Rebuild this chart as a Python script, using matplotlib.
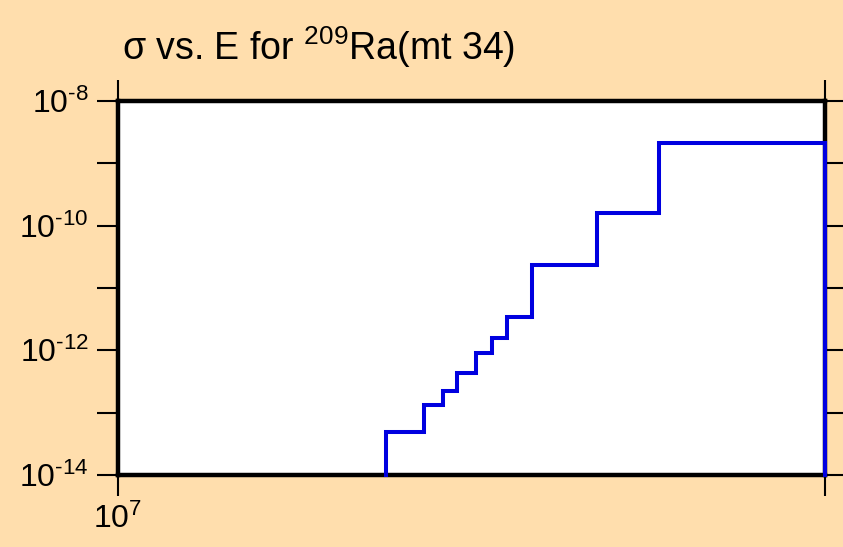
import matplotlib
matplotlib.use("Agg")
import matplotlib.pyplot as plt
import numpy as np

plt.rcParams['font.family'] = ['Liberation Sans', 'DejaVu Sans']
plt.rcParams['mathtext.fontset'] = 'custom'
plt.rcParams['mathtext.rm'] = 'Liberation Sans'
plt.rcParams['mathtext.it'] = 'Liberation Sans'

# Group boundaries (eV) and cross section in each group (b)
energy_edges = [1.3e7, 1.35e7, 1.375e7, 1.394e7, 1.42e7, 1.443e7, 1.464e7,
                1.5e7, 1.6e7, 1.7e7, 2.0e7]
sigma = [4.95e-14, 1.34e-13, 2.25e-13, 4.38e-13, 8.95e-13, 1.56e-12,
         3.47e-12, 2.34e-11, 1.61e-10, 2.10e-9]

x_limits = (1e7, 2e7)
y_limits = (1e-14, 1e-8)
x_ticks = [1e7, 2e7]
x_ticklabels = [r'$\mathregular{10^{7}}$', '']
y_ticks = [1e-14, 1e-13, 1e-12, 1e-11, 1e-10, 1e-9, 1e-8]
y_ticklabels = [r'$\mathregular{10^{\text{-}14}}$', '', r'$\mathregular{10^{\text{-}12}}$', '',
                r'$\mathregular{10^{\text{-}10}}$', '', r'$\mathregular{10^{\text{-}8}}$']

bg = '#FFDEAD'
fig = plt.figure(figsize=(8.43, 5.47), dpi=100, facecolor=bg)
ax = fig.add_axes([118 / 843, 1 - 475 / 547, (825 - 118) / 843, (475 - 101) / 547])
ax.set_facecolor('white')

# step outline rising from the floor and dropping back at the last edge
floor = y_limits[0]
xs = [energy_edges[0]]
ys = [floor]
for i, s in enumerate(sigma):
    xs += [energy_edges[i], energy_edges[i + 1]]
    ys += [s, s]
xs.append(energy_edges[-1])
ys.append(floor)
ax.plot(xs, ys, color='#0000E0', lw=2.9, solid_joinstyle='miter',
        clip_on=False, zorder=5)

ax.set_xscale('log')
ax.set_yscale('log')
ax.set_xlim(*x_limits)
ax.set_ylim(*y_limits)
ax.set_xticks(x_ticks)
ax.set_xticklabels(x_ticklabels)
ax.set_yticks(y_ticks)
ax.set_yticklabels(y_ticklabels)
ax.minorticks_off()

for sp in ax.spines.values():
    sp.set_linewidth(3.2)
    sp.set_zorder(4)

ax.tick_params(axis='both', which='major', direction='out', length=15, width=1.5,
               top=True, right=True, labelsize=23, color='black')
ax.tick_params(axis='y', pad=6)
ax.tick_params(axis='x', pad=6)

fig.text(122 / 843, 1 - 60 / 547, r'σ vs. E for $\mathregular{^{209}}$Ra(mt 34)',
         fontsize=27, ha='left', va='baseline')

fig.savefig('out.png', dpi=100, facecolor=bg)
